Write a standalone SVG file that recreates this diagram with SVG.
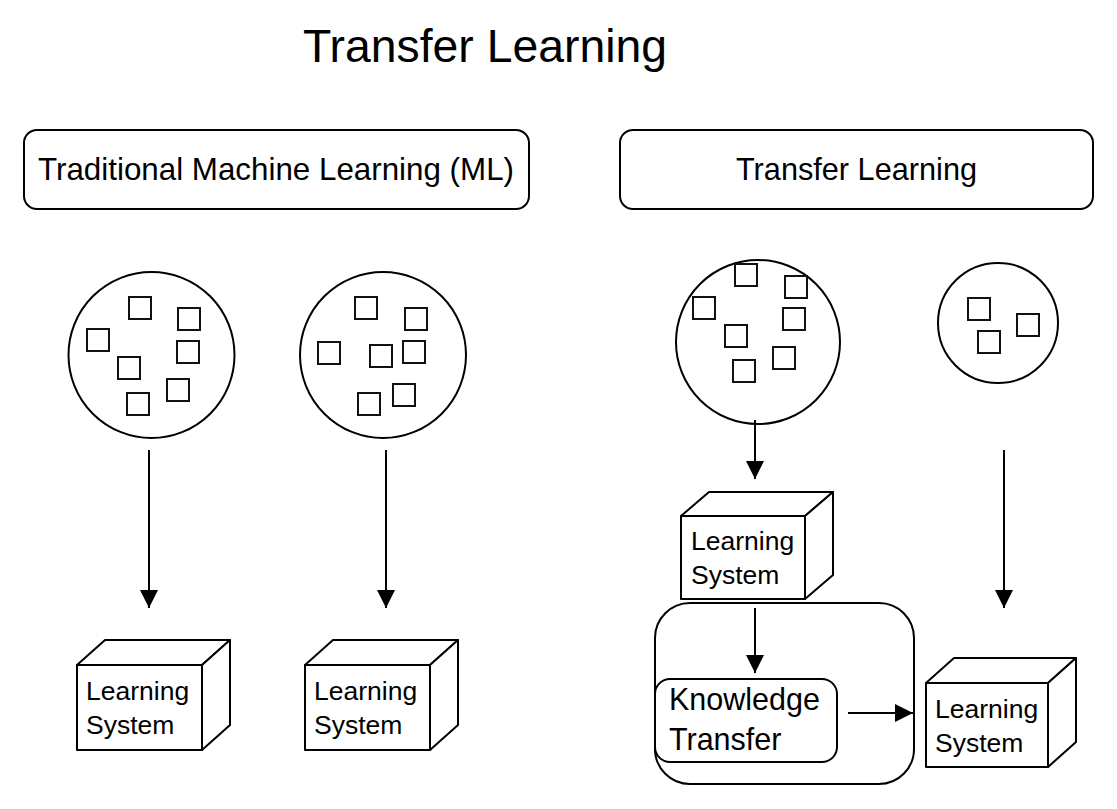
<svg xmlns="http://www.w3.org/2000/svg" width="1117" height="809" viewBox="0 0 1117 809">
<defs>
<style>
.t{font-family:"Liberation Sans",Arial,sans-serif;fill:#000}
.box{fill:#fff;stroke:#000;stroke-width:2}
.ln{fill:none;stroke:#000;stroke-width:2;stroke-linejoin:round}
.sq{fill:none;stroke:#111;stroke-width:2}
.cube{fill:#fff;stroke:#000;stroke-width:2;stroke-linejoin:round}
</style>
<marker id="ah" viewBox="0 0 18 18" markerWidth="18" markerHeight="18" refX="18" refY="9" orient="auto" markerUnits="userSpaceOnUse">
<path d="M0,0 L18,9 L0,18 z" fill="#000"/>
</marker>
</defs>
<rect width="1117" height="809" fill="#fff"/>

<g id="title"><text class="t" x="303" y="62" font-size="47" textLength="364" lengthAdjust="spacingAndGlyphs">Transfer Learning</text></g>

<g id="header-ml">
<rect class="box" x="24" y="130" width="505" height="79" rx="13"/>
<text class="t" x="38" y="180" font-size="30.5" textLength="476" lengthAdjust="spacingAndGlyphs">Traditional Machine Learning (ML)</text>
</g>
<g id="header-tl">
<rect class="box" x="620" y="130" width="473" height="79" rx="13"/>
<text class="t" x="736" y="180" font-size="30.5" textLength="241" lengthAdjust="spacingAndGlyphs">Transfer Learning</text>
</g>

<g id="data1">
<circle class="ln" cx="151.5" cy="355" r="83"/>
<rect class="sq" x="129" y="297" width="22" height="22"/>
<rect class="sq" x="178" y="308" width="22" height="22"/>
<rect class="sq" x="87" y="329" width="22" height="22"/>
<rect class="sq" x="177" y="341" width="22" height="22"/>
<rect class="sq" x="118" y="357" width="22" height="22"/>
<rect class="sq" x="167" y="379" width="22" height="22"/>
<rect class="sq" x="127" y="393" width="22" height="22"/>
</g>
<g id="data2">
<circle class="ln" cx="383" cy="355" r="83"/>
<rect class="sq" x="355" y="297" width="22" height="22"/>
<rect class="sq" x="405" y="308" width="22" height="22"/>
<rect class="sq" x="318" y="342" width="22" height="22"/>
<rect class="sq" x="370" y="345" width="22" height="22"/>
<rect class="sq" x="403" y="341" width="22" height="22"/>
<rect class="sq" x="393" y="384" width="22" height="22"/>
<rect class="sq" x="358" y="393" width="22" height="22"/>
</g>
<g id="data3">
<circle class="ln" cx="758" cy="342" r="82"/>
<rect class="sq" x="735" y="264" width="22" height="22"/>
<rect class="sq" x="785" y="276" width="22" height="22"/>
<rect class="sq" x="693" y="297" width="22" height="22"/>
<rect class="sq" x="783" y="308" width="22" height="22"/>
<rect class="sq" x="725" y="325" width="22" height="22"/>
<rect class="sq" x="773" y="347" width="22" height="22"/>
<rect class="sq" x="733" y="360" width="22" height="22"/>
</g>
<g id="data4">
<circle class="ln" cx="998" cy="323" r="60"/>
<rect class="sq" x="968" y="298" width="22" height="22"/>
<rect class="sq" x="1017" y="314" width="22" height="22"/>
<rect class="sq" x="978" y="331" width="22" height="22"/>
</g>

<g id="transfer-container">
<rect class="box" x="655" y="603" width="259" height="181" rx="35"/>
</g>

<g id="ls1">
<path class="cube" d="M77,665 L105,640 L230,640 L202,665 Z"/>
<path class="cube" d="M202,665 L230,640 L230,725 L202,750 Z"/>
<rect class="cube" x="77" y="665" width="125" height="85"/>
<text class="t" x="86" y="700" font-size="26.5">Learning</text>
<text class="t" x="86" y="734" font-size="26.5">System</text>
</g>
<g id="ls2">
<path class="cube" d="M305,665 L333,640 L458,640 L430,665 Z"/>
<path class="cube" d="M430,665 L458,640 L458,725 L430,750 Z"/>
<rect class="cube" x="305" y="665" width="125" height="85"/>
<text class="t" x="314" y="700" font-size="26.5">Learning</text>
<text class="t" x="314" y="734" font-size="26.5">System</text>
</g>
<g id="ls3">
<path class="cube" d="M681,516 L709,492 L833,492 L805,516 Z"/>
<path class="cube" d="M805,516 L833,492 L833,575 L805,599 Z"/>
<rect class="cube" x="681" y="516" width="124" height="83"/>
<text class="t" x="691" y="550" font-size="26.5">Learning</text>
<text class="t" x="691" y="584" font-size="26.5">System</text>
</g>
<g id="ls4">
<path class="cube" d="M926,683 L954,658 L1076,658 L1048,683 Z"/>
<path class="cube" d="M1048,683 L1076,658 L1076,742 L1048,767 Z"/>
<rect class="cube" x="926" y="683" width="122" height="84"/>
<text class="t" x="935" y="718" font-size="26.5">Learning</text>
<text class="t" x="935" y="752" font-size="26.5">System</text>
</g>

<g id="knowledge-transfer">
<rect class="box" x="655" y="679" width="182" height="83" rx="15"/>
<text class="t" x="669" y="710" font-size="30.5">Knowledge</text>
<text class="t" x="669" y="750" font-size="30.5">Transfer</text>
</g>

<g id="connectors">
<line class="ln" x1="149" y1="450" x2="149" y2="608" marker-end="url(#ah)"/>
<line class="ln" x1="386" y1="450" x2="386" y2="608" marker-end="url(#ah)"/>
<line class="ln" x1="755" y1="420" x2="755" y2="479" marker-end="url(#ah)"/>
<line class="ln" x1="1004" y1="450" x2="1004" y2="608" marker-end="url(#ah)"/>
<line class="ln" x1="755" y1="608" x2="755" y2="673" marker-end="url(#ah)"/>
<line class="ln" x1="848" y1="713" x2="913" y2="713" marker-end="url(#ah)"/>
</g>
</svg>
